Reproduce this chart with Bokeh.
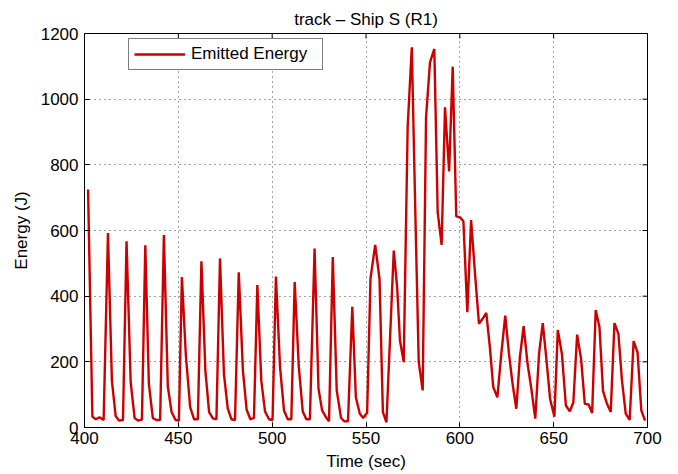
from bokeh.plotting import figure
from bokeh.models import FixedTicker, Range1d
from bokeh.embed import file_html
from bokeh.resources import INLINE

# Data (time in seconds, energy in joules)
time_sec = [
    401.9, 404.2, 406.0, 408.0, 410.2, 412.5, 414.6, 416.6, 418.4, 420.5,
    422.4, 424.6, 426.7, 428.5, 430.6, 432.4, 434.3, 436.4, 438.2, 440.3,
    442.3, 444.4, 446.4, 448.5, 450.3, 451.9, 454.0, 456.3, 458.4, 460.4,
    462.3, 464.4, 466.4, 468.4, 470.3, 472.2, 474.3, 476.3, 478.3, 480.2,
    482.2, 484.4, 486.4, 488.4, 490.3, 492.1, 494.2, 496.2, 498.3, 500.2,
    502.0, 504.2, 506.3, 508.3, 510.2, 512.0, 514.2, 516.3, 518.2, 520.1,
    522.6, 524.7, 526.6, 528.5, 530.3, 532.3, 534.4, 536.7, 538.4, 540.4,
    542.7, 544.6, 546.7, 548.5, 550.6, 552.4, 554.9, 557.2, 559.0, 560.9,
    564.8, 566.6, 568.1, 570.1, 572.2, 574.4, 576.3, 578.1, 580.2, 582.0,
    584.1, 586.4, 588.2, 590.3, 592.1, 594.3, 596.2, 598.1, 600.1, 601.9,
    604.0, 606.0, 608.1, 610.2, 612.1, 614.1, 616.0, 617.8, 620.0, 622.1,
    624.2, 626.2, 628.1, 630.1, 632.0, 634.0, 636.1, 638.1, 640.2, 642.2,
    644.2, 646.2, 648.1, 650.4, 652.2, 654.4, 656.5, 658.6, 660.5, 662.5,
    664.6, 666.6, 668.6, 670.5, 672.4, 674.4, 676.3, 678.3, 680.4, 682.4,
    684.5, 686.4, 688.4, 690.5, 692.6, 694.7, 696.7, 698.7,
]
emitted_energy = [
    725, 33, 25, 31, 23, 592, 143, 35, 21, 23,
    567, 138, 29, 21, 24, 555, 133, 29, 23, 23,
    586, 125, 47, 23, 21, 458, 220, 62, 25, 25,
    506, 174, 47, 28, 25, 515, 163, 59, 25, 23,
    473, 174, 54, 25, 29, 434, 143, 49, 25, 23,
    460, 184, 52, 25, 25, 443, 184, 49, 25, 25,
    545, 118, 52, 33, 19, 519, 113, 29, 19, 19,
    368, 92, 42, 29, 45, 454, 556, 453, 47, 16,
    539, 427, 265, 199, 915, 1158, 650, 199, 113, 945,
    1112, 1153, 656, 556, 975, 780, 1099, 643, 640, 628,
    351, 632, 468, 316, 331, 349, 245, 123, 92, 224,
    341, 224, 133, 57, 214, 309, 194, 118, 27, 224,
    318, 204, 87, 33, 297, 224, 67, 49, 77, 283,
    209, 72, 70, 44, 358, 306, 111, 74, 47, 318,
    285, 143, 42, 23, 263, 229, 52, 21,
]
x_ticks = [400, 450, 500, 550, 600, 650, 700]
y_ticks = [0, 200, 400, 600, 800, 1000, 1200]
X_MIN, X_MAX = 400, 700
Y_MIN, Y_MAX = 0, 1200

FONT = "Liberation Sans"
W, H = 678, 474
BL, BR, BT, BB = 84, 31, 33, 47
TICK_PX = 5

p = figure(width=W, height=H, output_backend="svg", toolbar_location=None,
           x_range=Range1d(X_MIN, X_MAX), y_range=Range1d(Y_MIN, Y_MAX),
           min_border_left=BL, min_border_right=BR, min_border_top=BT,
           min_border_bottom=BB)
p.title.text = "track \u2013 Ship S (R1)"
p.title.align = "center"
p.title.text_font = FONT
p.title.text_font_style = "normal"
p.title.text_font_size = "17px"
p.title.text_color = "black"
p.title.standoff = 10
p.background_fill_color = "white"
p.border_fill_color = "white"
p.outline_line_color = "black"
p.outline_line_width = 1
p.outline_line_alpha = 1

for g in (p.xgrid[0], p.ygrid[0]):
    g.grid_line_color = "#444444"
    g.grid_line_dash = "1 4"
    g.grid_line_width = 1
p.xgrid[0].ticker = FixedTicker(ticks=x_ticks)
p.ygrid[0].ticker = FixedTicker(ticks=y_ticks)

# inward tick marks on top and right edges (MATLAB box style)
frame_w = W - BL - BR
frame_h = H - BT - BB
dx = (X_MAX - X_MIN) / frame_w * TICK_PX
dy = (Y_MAX - Y_MIN) / frame_h * TICK_PX
p.segment(x0=x_ticks, y0=[Y_MAX] * len(x_ticks), x1=x_ticks,
          y1=[Y_MAX - dy] * len(x_ticks), line_color="black", line_width=1)
p.segment(x0=[X_MAX] * len(y_ticks), y0=y_ticks, x1=[X_MAX - dx] * len(y_ticks),
          y1=y_ticks, line_color="black", line_width=1)

p.line(time_sec, emitted_energy, line_color="#cc0000", line_width=2.4,
       legend_label="Emitted Energy")

for ax in (p.xaxis[0], p.yaxis[0]):
    ax.major_tick_in = TICK_PX
    ax.major_tick_out = 0
    ax.minor_tick_line_color = None
    ax.axis_line_color = "black"
    ax.major_label_text_font = FONT
    ax.major_label_text_font_size = "17px"
    ax.major_label_text_color = "black"
    ax.axis_label_text_font = FONT
    ax.axis_label_text_font_size = "17px"
    ax.axis_label_text_font_style = "normal"
    ax.axis_label_text_color = "black"

p.xaxis[0].ticker = FixedTicker(ticks=x_ticks)
p.yaxis[0].ticker = FixedTicker(ticks=y_ticks)
p.xaxis[0].axis_label = "Time (sec)"
p.yaxis[0].axis_label = "Energy (J)"
p.xaxis[0].major_label_standoff = 4
p.xaxis[0].axis_label_standoff = 5
p.yaxis[0].major_label_standoff = 6
p.yaxis[0].axis_label_standoff = 7

lg = p.legend[0]
lg.location = (44, 357)
lg.border_line_color = "black"
lg.border_line_width = 1
lg.background_fill_color = "white"
lg.background_fill_alpha = 1
lg.padding = 5
lg.margin = 0
lg.glyph_width = 51
lg.glyph_height = 20
lg.label_height = 20
lg.label_width = 126
lg.label_standoff = 6
lg.label_text_font = FONT
lg.label_text_font_size = "17px"
lg.label_text_color = "black"

open("out.html", "w").write(file_html(p, INLINE))
